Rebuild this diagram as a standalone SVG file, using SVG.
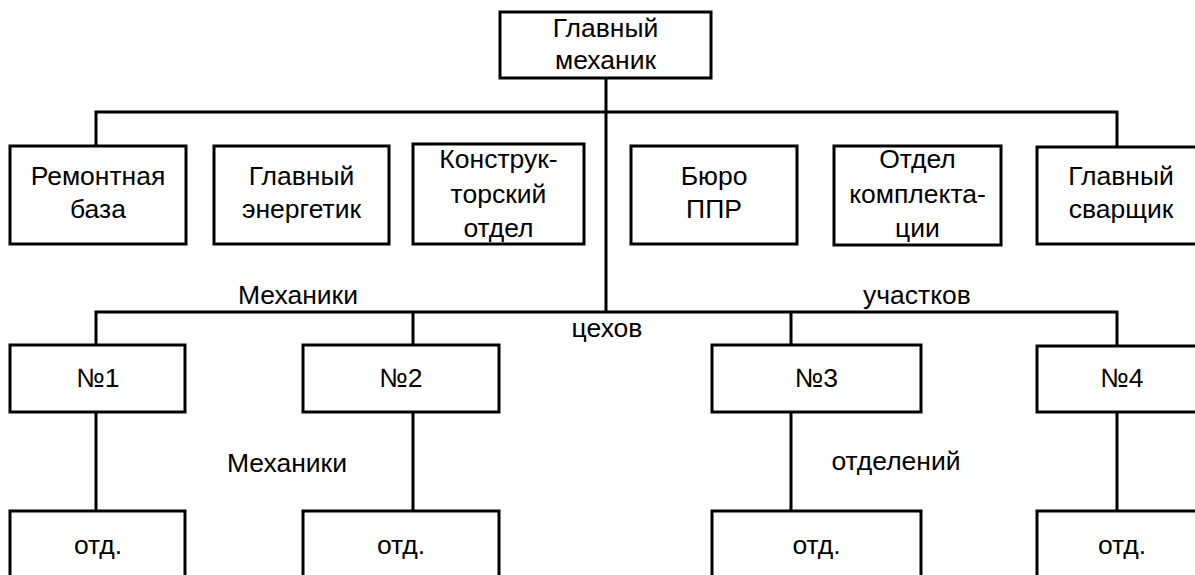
<svg xmlns="http://www.w3.org/2000/svg" width="1195" height="575" viewBox="0 0 1195 575">
<style>
.box{fill:#fff;stroke:#000;stroke-width:3}
.ln{fill:none;stroke:#000;stroke-width:3}
text{font-family:"Liberation Sans",Arial,sans-serif;font-size:26.5px;fill:#000;text-anchor:middle}
</style>
<rect width="1195" height="575" fill="#fff"/>
<g id="connectors">
<path class="ln" d="M606 78V312M96 146V112H1117V147M96 345V312H1117V346M413 312V345M791 312V345M96 412V511M413 412V511M791 412V511M1117 412V511"/>
</g>
<g id="n-main"><rect class="box" x="500" y="12" width="211" height="66"/><text x="605.5" y="37">Главный</text><text x="605.5" y="69">механик</text></g>
<g id="n-rem"><rect class="box" x="10" y="146" width="176" height="98"/><text x="98" y="185">Ремонтная</text><text x="98" y="218">база</text></g>
<g id="n-energ"><rect class="box" x="214" y="146" width="175" height="98"/><text x="301.5" y="185">Главный</text><text x="301.5" y="218">энергетик</text></g>
<g id="n-konstr"><rect class="box" x="413" y="144" width="171" height="100"/><text x="498.5" y="168">Конструк-</text><text x="498.5" y="203">торский</text><text x="498.5" y="237">отдел</text></g>
<g id="n-buro"><rect class="box" x="631" y="146" width="166" height="98"/><text x="714" y="185">Бюро</text><text x="714" y="218">ППР</text></g>
<g id="n-kompl"><rect class="box" x="834" y="146" width="167" height="99"/><text x="917.5" y="168">Отдел</text><text x="917.5" y="203">комплекта-</text><text x="917.5" y="237">ции</text></g>
<g id="n-svar"><rect class="box" x="1037" y="147" width="170" height="97"/><text x="1121" y="185">Главный</text><text x="1121" y="218">сварщик</text></g>
<g id="n-m1"><rect class="box" x="10" y="345" width="175" height="67"/><text x="98" y="387">№1</text></g>
<g id="n-m2"><rect class="box" x="303" y="345" width="196" height="67"/><text x="401" y="387">№2</text></g>
<g id="n-m3"><rect class="box" x="712" y="345" width="209" height="67"/><text x="816.5" y="387">№3</text></g>
<g id="n-m4"><rect class="box" x="1037" y="346" width="170" height="66"/><text x="1122" y="387">№4</text></g>
<g id="n-o1"><rect class="box" x="10" y="511" width="175" height="80"/><text x="98" y="554">отд.</text></g>
<g id="n-o2"><rect class="box" x="303" y="511" width="196" height="80"/><text x="401" y="554">отд.</text></g>
<g id="n-o3"><rect class="box" x="712" y="511" width="209" height="80"/><text x="816.5" y="554">отд.</text></g>
<g id="n-o4"><rect class="box" x="1037" y="511" width="170" height="80"/><text x="1122" y="554">отд.</text></g>
<g id="labels">
<text x="298" y="304">Механики</text>
<text x="917" y="304">участков</text>
<text x="607" y="337">цехов</text>
<text x="287" y="472">Механики</text>
<text x="896" y="470">отделений</text>
</g>
</svg>
